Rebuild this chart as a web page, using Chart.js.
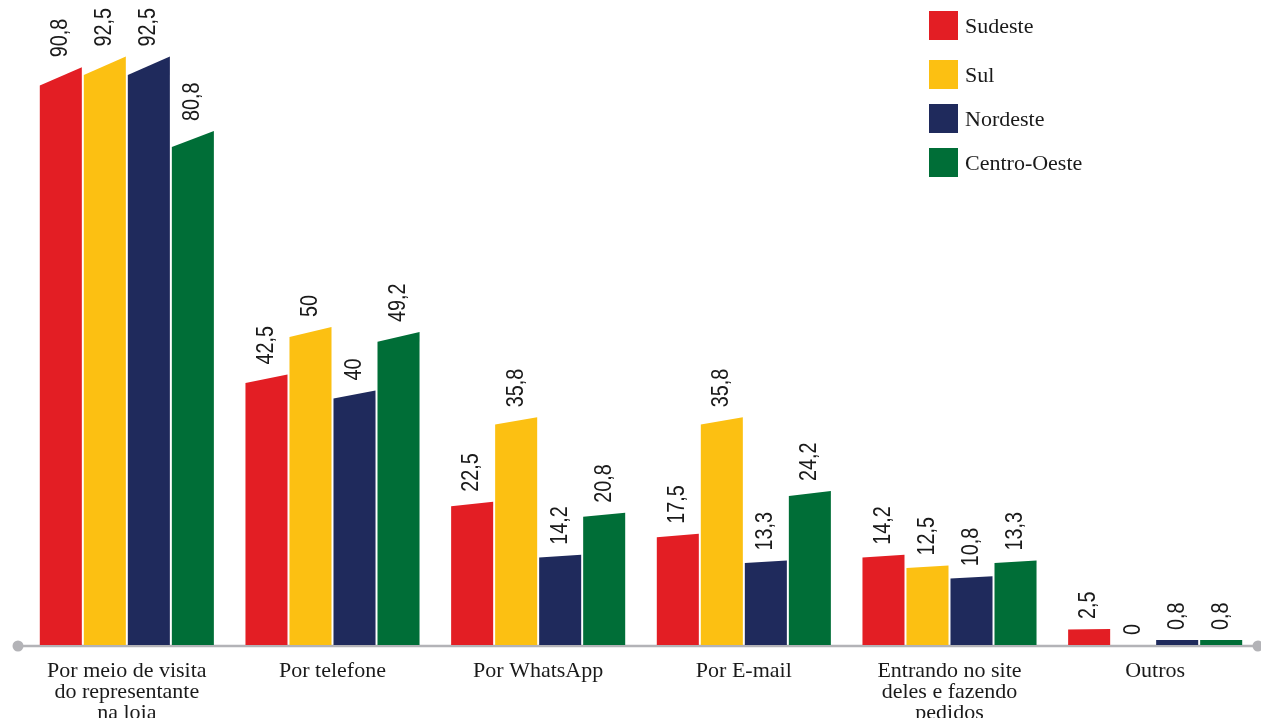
<!DOCTYPE html>
<html lang="pt">
  <head>
    <meta charset="UTF-8" />
    <title>Formas de pedido por região</title>
    <script src="https://cdn.jsdelivr.net/npm/chart.js"></script>
    <style>
      body { margin: 0; background: #fff; }
      #wrap { position: relative; width: 1261px; height: 718px; overflow: hidden; }
      #legend { position: absolute; left: 929px; top: 11px; font-family: "Liberation Serif", serif; font-size: 22px; color: #1a1a1a; }
      .item { display: flex; align-items: center; height: 29px; margin-bottom: 15px; }
      .item:first-child { margin-bottom: 20px; }
      .sw { width: 29px; height: 29px; margin-right: 7px; }
    </style>
  </head>
  <body>
    <div id="wrap">
      <canvas id="chart" width="1261" height="718"></canvas>
      <div id="legend"></div>
    </div>

    <script>
      // categorias (eixo x) e séries
      const categorias = [
        ["Por meio de visita", "do representante", "na loja"],
        ["Por telefone"],
        ["Por WhatsApp"],
        ["Por E-mail"],
        ["Entrando no site", "deles e fazendo", "pedidos"],
        ["Outros"],
      ];
      const regioes = ["Sudeste", "Sul", "Nordeste", "Centro-Oeste"];
      const cores = ["#e31e24", "#fcc012", "#1f2a5c", "#006e37"];

      const sudeste = [90.8, 42.5, 22.5, 17.5, 14.2, 2.5];
      const sul = [92.5, 50, 35.8, 35.8, 12.5, 0];
      const nordeste = [92.5, 40, 14.2, 13.3, 10.8, 0.8];
      const centroOeste = [80.8, 49.2, 20.8, 24.2, 13.3, 0.8];
      const series = [sudeste, sul, nordeste, centroOeste];

      // legenda
      const legend = document.getElementById("legend");
      regioes.forEach((r, i) => {
        const el = document.createElement("div");
        el.className = "item";
        el.innerHTML = `<div class="sw" style="background:${cores[i]}"></div><span>${r}</span>`;
        legend.appendChild(el);
      });

      const fmt = (v) => String(v).replace(".", ",");

      // barras com topo inclinado + rótulos + eixo
      const barrasPlugin = {
        id: "barras",
        afterDatasetsDraw(chart) {
          const ctx = chart.ctx;
          const area = chart.chartArea;
          const xs = chart.scales.x;

          // linha do eixo
          ctx.save();
          ctx.strokeStyle = "#b3b3b7";
          ctx.fillStyle = "#b3b3b7";
          ctx.lineWidth = 2.5;
          ctx.beginPath();
          ctx.moveTo(18, area.bottom + 1);
          ctx.lineTo(area.right, area.bottom + 1);
          ctx.stroke();
          [18, area.right].forEach((cx) => {
            ctx.beginPath();
            ctx.arc(cx, area.bottom + 1, 5.5, 0, Math.PI * 2);
            ctx.fill();
          });
          ctx.restore();

          chart.data.datasets.forEach((ds, di) => {
            const meta = chart.getDatasetMeta(di);
            meta.data.forEach((bar, i) => {
              const { x, y, base, width } = bar.getProps(["x", "y", "base", "width"], true);
              const h = base - y;
              const s = h * 0.032;
              const l = x - width / 2;
              const r = x + width / 2;
              if (h > 0) {
                ctx.save();
                ctx.fillStyle = cores[di];
                ctx.beginPath();
                ctx.moveTo(l, base);
                ctx.lineTo(l, y + s / 2);
                ctx.lineTo(r, y - s / 2);
                ctx.lineTo(r, base);
                ctx.closePath();
                ctx.fill();
                ctx.restore();
              }
              // rótulo do valor
              ctx.save();
              ctx.translate(x, y - s / 2 - 10);
              ctx.rotate(-Math.PI / 2);
              ctx.scale(0.86, 1);
              ctx.font = "23px 'Liberation Sans', Arial, sans-serif";
              ctx.fillStyle = "#1a1a1a";
              ctx.textAlign = "left";
              ctx.textBaseline = "middle";
              ctx.fillText(fmt(ds.data[i]), 0, 0);
              ctx.restore();
            });
          });

          // rótulos das categorias
          ctx.save();
          ctx.font = "22px 'Liberation Serif', serif";
          ctx.fillStyle = "#1a1a1a";
          ctx.textAlign = "center";
          ctx.textBaseline = "alphabetic";
          categorias.forEach((linhas, i) => {
            const cx = xs.getPixelForValue(i);
            linhas.forEach((t, j) => {
              ctx.fillText(t, cx, area.bottom + 32 + j * 21);
            });
          });
          ctx.restore();
        },
      };

      new Chart(document.getElementById("chart"), {
        type: "bar",
        data: {
          labels: categorias.map((c) => c.join(" ")),
          datasets: series.map((d, i) => ({
            label: regioes[i],
            data: d,
            backgroundColor: "rgba(0,0,0,0)",
            borderWidth: 0,
            categoryPercentage: 0.856,
            barPercentage: 0.955,
          })),
        },
        options: {
          responsive: false,
          animation: false,
          devicePixelRatio: 1,
          layout: { padding: { left: 24, right: 3, top: 0, bottom: 73 } },
          plugins: { legend: { display: false }, tooltip: { enabled: false } },
          scales: {
            x: { display: false },
            y: { display: false, min: 0, max: 103 },
          },
        },
        plugins: [barrasPlugin],
      });
    </script>
  </body>
</html>
